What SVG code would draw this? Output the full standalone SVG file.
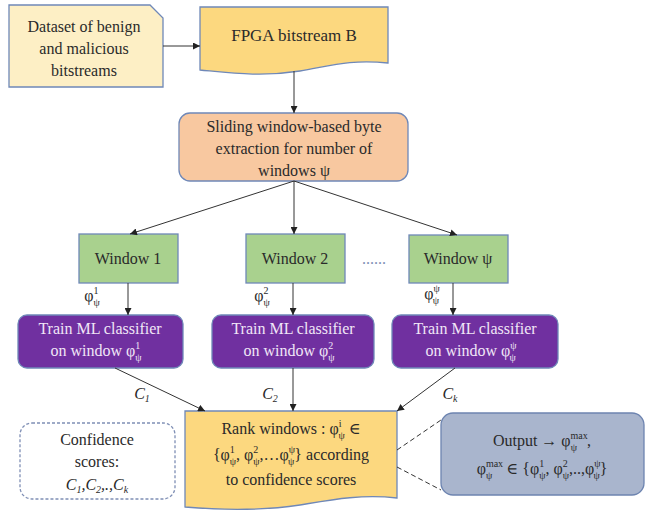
<svg xmlns="http://www.w3.org/2000/svg" width="647" height="516" viewBox="0 0 647 516" font-family="Liberation Serif, DejaVu Serif, serif">
<defs>
<marker id="ah" viewBox="0 0 10 10" refX="10" refY="5" markerWidth="7" markerHeight="7" orient="auto" markerUnits="userSpaceOnUse"><path d="M0,0 L10,5 L0,10 z" fill="#222"/></marker>
<style>
text{font-size:16px;fill:#2a2a2a;text-anchor:middle}
.w{fill:#f1e6f7}
.m{font-style:italic}
.s{font-size:10px}
.ln{stroke:#333;stroke-width:1;fill:none}
.bd{stroke:#6f88b8;stroke-width:1.3}
</style>
</defs>
<rect width="647" height="516" fill="#fff"/>
<g id="dataset"><path class="bd" d="M9,5 H150 L163,18 V87 H9 Z" fill="#fdefc5"/>
<text x="84" y="32">Dataset of benign</text><text x="84" y="54">and malicious</text><text x="84" y="76">bitstreams</text></g>
<g id="fpga"><path class="bd" d="M200,7 H388 V63 C350,59 330,66 300,71 C262,77 232,73 200,70 Z" fill="#fcd87f"/>
<text x="294" y="41" style="font-size:17px">FPGA bitstream B</text></g>
<g id="sliding"><rect class="bd" x="179" y="113" width="229" height="68" rx="11" fill="#f8c8a0"/>
<text x="294" y="132">Sliding window-based byte</text><text x="294" y="154">extraction for number of</text><text x="294" y="176">windows ψ</text></g>
<g id="window1"><rect class="bd" x="79" y="234" width="99" height="49" fill="#a9d18e"/><text x="128" y="264">Window 1</text></g>
<g id="window2"><rect class="bd" x="246" y="234" width="99" height="49" fill="#a9d18e"/><text x="295" y="264">Window 2</text></g>
<g id="dots"><text x="374" y="264" style="fill:#7f8fb5">......</text></g>
<g id="windowpsi"><rect class="bd" x="409" y="235" width="99" height="48" fill="#a9d18e"/><text x="458" y="264">Window ψ</text></g>
<g id="train1"><rect class="bd" x="18" y="315" width="165" height="53" rx="9" fill="#7030a0"/>
<text class="w" x="100" y="334">Train ML classifier</text>
<text class="w" x="96" y="356">on window φ<tspan class="s" dy="-7">1</tspan><tspan class="s" dx="-5" dy="12">ψ</tspan></text></g>
<g id="train2"><rect class="bd" x="212" y="315" width="162" height="53" rx="9" fill="#7030a0"/>
<text class="w" x="293" y="334">Train ML classifier</text>
<text class="w" x="289" y="356">on window φ<tspan class="s" dy="-7">2</tspan><tspan class="s" dx="-5" dy="12">ψ</tspan></text></g>
<g id="trainpsi"><rect class="bd" x="392" y="315" width="166" height="53" rx="9" fill="#7030a0"/>
<text class="w" x="475" y="334">Train ML classifier</text>
<text class="w" x="471" y="356">on window φ<tspan class="s" dy="-7">ψ</tspan><tspan class="s" dx="-7" dy="12">ψ</tspan></text></g>
<g id="rank"><path class="bd" d="M185,411 H397 V498 C360,494 330,500 300,505 C260,511 220,510 185,507 Z" fill="#fcd87f"/>
<text x="291" y="434">Rank windows : φ<tspan class="s" dy="-7">i</tspan><tspan class="s" dx="-3" dy="12">ψ</tspan><tspan dy="-5"> ∈</tspan></text>
<text x="291" y="460">{φ<tspan class="s" dy="-7">1</tspan><tspan class="s" dx="-5" dy="12">ψ</tspan><tspan dy="-5">, φ</tspan><tspan class="s" dy="-7">2</tspan><tspan class="s" dx="-5" dy="12">ψ</tspan><tspan dy="-5">,…φ</tspan><tspan class="s" dy="-7">ψ</tspan><tspan class="s" dx="-7" dy="12">ψ</tspan><tspan dy="-5">} according</tspan></text>
<text x="291" y="485">to confidence scores</text></g>
<g id="confidence"><rect x="20" y="423" width="155" height="76" rx="12" fill="#fff" stroke="#7f8fb5" stroke-width="1.3" stroke-dasharray="3,2"/>
<text x="97" y="445">Confidence</text><text x="97" y="467">scores:</text>
<text x="97" y="490" class="m">C<tspan class="s" dy="3">1</tspan><tspan dy="-3">,C</tspan><tspan class="s" dy="3">2</tspan><tspan dy="-3">,.,C</tspan><tspan class="s" dy="3">k</tspan></text></g>
<g id="output"><rect x="441" y="413" width="203" height="82" rx="12" fill="#a9b5cd" stroke="#6d84b0" stroke-width="1.3"/>
<text x="542" y="446">Output → φ<tspan class="s" dy="-7">max</tspan><tspan class="s" dx="-17" dy="12">ψ</tspan><tspan dx="10" dy="-5">,</tspan></text>
<text x="542" y="474">φ<tspan class="s" dy="-7">max</tspan><tspan class="s" dx="-17" dy="12">ψ</tspan><tspan dx="10" dy="-5"> ∈ {φ</tspan><tspan class="s" dy="-7">1</tspan><tspan class="s" dx="-5" dy="12">ψ</tspan><tspan dy="-5">, φ</tspan><tspan class="s" dy="-7">2</tspan><tspan class="s" dx="-5" dy="12">ψ</tspan><tspan dy="-5">,..,φ</tspan><tspan class="s" dy="-7">ψ</tspan><tspan class="s" dx="-7" dy="12">ψ</tspan><tspan dy="-5">}</tspan></text></g>
<g id="connectors">
<line class="ln" x1="163" y1="46" x2="200" y2="46" marker-end="url(#ah)"/>
<line class="ln" x1="294" y1="71" x2="294" y2="113" marker-end="url(#ah)"/>
<line class="ln" x1="294" y1="181" x2="130" y2="234" marker-end="url(#ah)"/>
<line class="ln" x1="294" y1="181" x2="294" y2="234" marker-end="url(#ah)"/>
<line class="ln" x1="294" y1="181" x2="457" y2="235" marker-end="url(#ah)"/>
<line class="ln" x1="128" y1="283" x2="128" y2="315" marker-end="url(#ah)"/>
<line class="ln" x1="293" y1="283" x2="293" y2="315" marker-end="url(#ah)"/>
<line class="ln" x1="453" y1="283" x2="453" y2="315" marker-end="url(#ah)"/>
<line class="ln" x1="115" y1="368" x2="205" y2="411" marker-end="url(#ah)"/>
<line class="ln" x1="293" y1="368" x2="293" y2="411" marker-end="url(#ah)"/>
<line class="ln" x1="455" y1="368" x2="397" y2="411" marker-end="url(#ah)"/>
<line class="ln" x1="397" y1="450" x2="441" y2="420" stroke-dasharray="5,3"/>
<line class="ln" x1="397" y1="467" x2="441" y2="490" stroke-dasharray="5,3"/>
<text x="92" y="301">φ<tspan class="s" dy="-7">1</tspan><tspan class="s" dx="-5" dy="12">ψ</tspan></text>
<text x="262" y="301">φ<tspan class="s" dy="-7">2</tspan><tspan class="s" dx="-5" dy="12">ψ</tspan></text>
<text x="432" y="299">φ<tspan class="s" dy="-7">ψ</tspan><tspan class="s" dx="-7" dy="12">ψ</tspan></text>
<text x="142" y="399" class="m">C<tspan class="s" dy="3">1</tspan></text>
<text x="270" y="399" class="m">C<tspan class="s" dy="3">2</tspan></text>
<text x="450" y="399" class="m">C<tspan class="s" dy="3">k</tspan></text>
</g>
</svg>
